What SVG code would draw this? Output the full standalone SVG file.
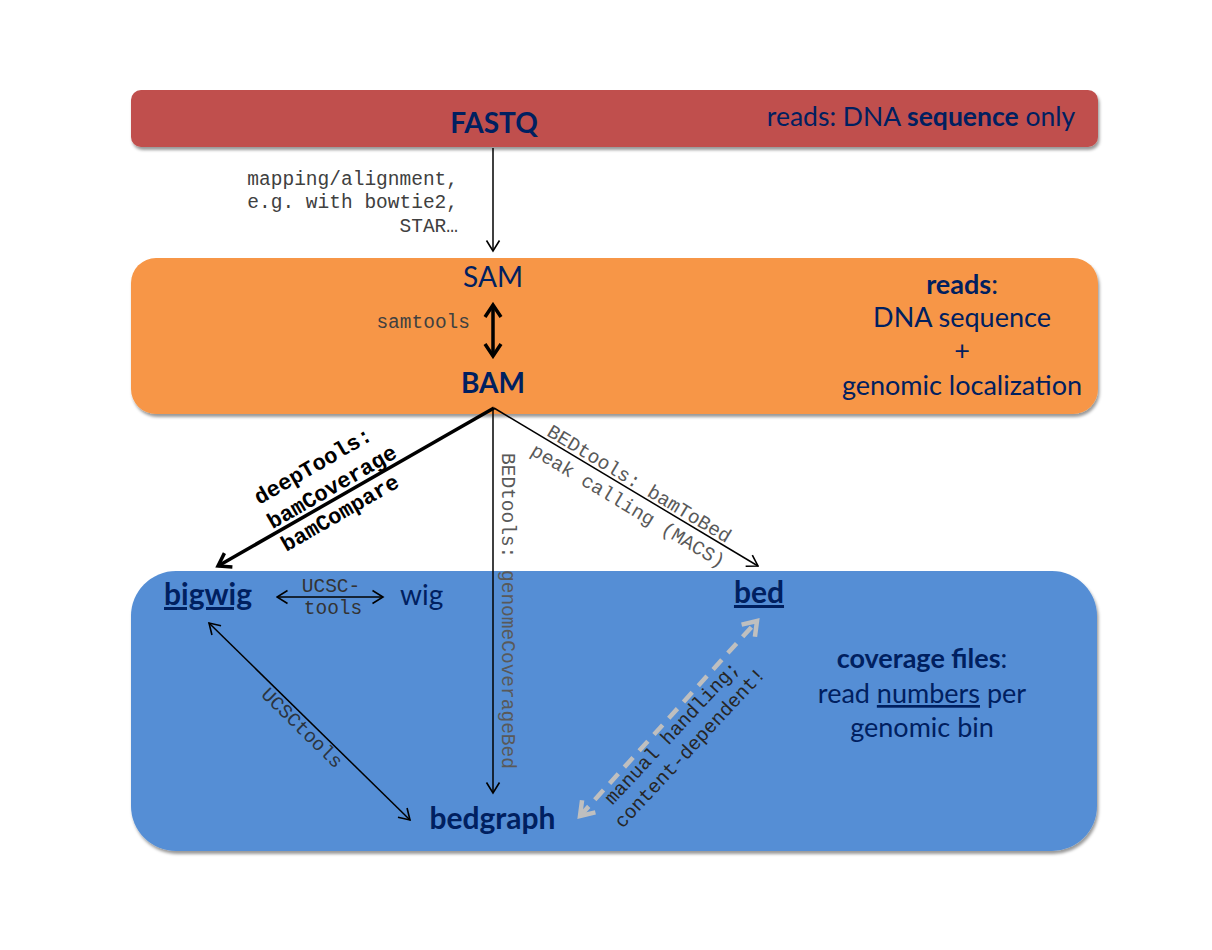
<svg xmlns="http://www.w3.org/2000/svg" width="1212" height="950" viewBox="0 0 1212 950">
  <style>
    .title { font-family: Lato, "Open Sans", sans-serif; fill: #002060; font-size: 28px; }
    .lc { font-size: 30px; }
    .b { font-weight: bold; }
    .desc { font-family: Lato, "Open Sans", sans-serif; fill: #002060; font-size: 27px; }
    .top { font-size: 26.5px; }
    .mono { font-family: "Liberation Mono", "DejaVu Sans Mono", monospace; font-size: 19.5px; }
    .monob { font-family: "Liberation Mono", "DejaVu Sans Mono", monospace; font-size: 22px; font-weight: bold; fill: #000; }
    .thin { stroke: #000; stroke-width: 1.5; fill: none; }
    .thick { stroke: #000; stroke-width: 3.5; fill: none; }
    .dash { stroke: #BFBFBF; stroke-width: 4.5; fill: none; stroke-dasharray: 13 9; }
  </style>
  <defs>
    <filter id="shadow" x="-5%" y="-10%" width="110%" height="125%">
      <feDropShadow dx="1.5" dy="3" stdDeviation="1.5" flood-color="#000" flood-opacity="0.4"/>
    </filter>
    <marker id="aThin" markerUnits="userSpaceOnUse" viewBox="0 0 14 16" markerWidth="14" markerHeight="16" refX="12.5" refY="8" orient="auto-start-reverse">
      <path d="M2,1.5 L12.5,8 L2,14.5" fill="none" stroke="#000" stroke-width="1.6"/>
    </marker>
    <marker id="aThick" markerUnits="userSpaceOnUse" viewBox="0 0 18 20" markerWidth="18" markerHeight="20" refX="15" refY="10" orient="auto-start-reverse">
      <path d="M3,2 L15,10 L3,18" fill="none" stroke="#000" stroke-width="3.5" stroke-linejoin="miter"/>
    </marker>
    <marker id="aGray" markerUnits="userSpaceOnUse" viewBox="0 0 20 22" markerWidth="20" markerHeight="22" refX="16" refY="11" orient="auto-start-reverse">
      <path d="M3,2 L16,11 L3,20" fill="none" stroke="#BFBFBF" stroke-width="4.5"/>
    </marker>
  </defs>

  <rect width="1212" height="950" fill="#ffffff"/>

  <!-- containers -->
  <g id="reads-fastq-box">
    <rect x="131" y="90" width="967" height="57" rx="10" fill="#C0504D" filter="url(#shadow)"/>
    <text class="desc top" x="921" y="126" text-anchor="middle">reads: DNA <tspan class="b">sequence</tspan> only</text>
  </g>
  <g id="reads-aligned-box">
    <rect x="131" y="258" width="967" height="156" rx="25" fill="#F79646" filter="url(#shadow)"/>
    <text class="desc" text-anchor="middle" x="962" y="294"><tspan class="b">reads</tspan>:</text>
    <text class="desc" text-anchor="middle" x="962" y="327">DNA sequence</text>
    <text class="desc" text-anchor="middle" x="962" y="360">+</text>
    <text class="desc" text-anchor="middle" x="962" y="395">genomic localization</text>
  </g>
  <g id="coverage-box">
    <rect x="131" y="571" width="966" height="280" rx="45" fill="#558ED5" filter="url(#shadow)"/>
    <text class="desc" text-anchor="middle" x="922" y="668"><tspan class="b">coverage files</tspan>:</text>
    <text class="desc" text-anchor="middle" x="922" y="703">read <tspan text-decoration="underline">numbers</tspan> per</text>
    <text class="desc" text-anchor="middle" x="922" y="737">genomic bin</text>
  </g>

  <!-- nodes -->
  <g id="fastq"><text class="title b" x="494" y="133" text-anchor="middle">FASTQ</text></g>
  <g id="sam"><text class="title" x="493" y="287" text-anchor="middle">SAM</text></g>
  <g id="bam"><text class="title b" x="493" y="393" text-anchor="middle">BAM</text></g>
  <g id="bigwig"><text class="title lc b" x="164" y="605" text-decoration="underline">bigwig</text></g>
  <g id="wig"><text class="title" x="400" y="605">wig</text></g>
  <g id="bed"><text class="title lc b" x="759" y="603" text-anchor="middle" text-decoration="underline">bed</text></g>
  <g id="bedgraph"><text class="title lc b" x="492.5" y="829" text-anchor="middle">bedgraph</text></g>

  <!-- connectors -->
  <g id="connectors">
    <line class="thin" x1="493" y1="148" x2="493" y2="251" marker-end="url(#aThin)"/>
    <line class="thick" x1="493" y1="305" x2="493" y2="356" marker-start="url(#aThick)" marker-end="url(#aThick)"/>
    <line class="thick" x1="494" y1="408" x2="218" y2="566" marker-end="url(#aThick)"/>
    <line class="thin" x1="493" y1="408" x2="493" y2="793" marker-end="url(#aThin)"/>
    <line class="thin" x1="494" y1="408" x2="758" y2="566" marker-end="url(#aThin)"/>
    <line class="thin" x1="277" y1="597" x2="383" y2="597" marker-start="url(#aThin)" marker-end="url(#aThin)"/>
    <line class="thin" x1="209" y1="623" x2="410" y2="820" marker-start="url(#aThin)" marker-end="url(#aThin)"/>
    <line class="dash" x1="580" y1="816" x2="757" y2="621" marker-start="url(#aGray)" marker-end="url(#aGray)"/>
  </g>

  <!-- connector labels -->
  <g id="connector-labels">
    <g class="mono" fill="#404040" text-anchor="end">
      <text x="458" y="185">mapping/alignment,</text>
      <text x="458" y="208">e.g. with bowtie2,</text>
      <text x="458" y="232">STAR…</text>
    </g>
    <text class="mono" fill="#404040" x="470" y="328" text-anchor="end">samtools</text>

    <text class="monob" text-anchor="middle" transform="translate(313,466) rotate(-30)" y="7">deepTools:</text>
    <text class="monob" text-anchor="middle" transform="translate(332,487) rotate(-30)" y="7">bamCoverage</text>
    <text class="monob" text-anchor="middle" transform="translate(340,513) rotate(-30)" y="7">bamCompare</text>

    <text class="mono" fill="#595959" transform="translate(502,453) rotate(90)">BEDtools: genomeCoverageBed</text>

    <text class="mono" fill="#595959" text-anchor="middle" transform="translate(639,484) rotate(31)" y="6">BEDtools: bamToBed</text>
    <text class="mono" fill="#595959" text-anchor="middle" transform="translate(628,506) rotate(31)" y="6">peak calling (MACS)</text>

    <text class="mono" fill="#333333" x="331" y="592" text-anchor="middle">UCSC-</text>
    <text class="mono" fill="#333333" x="333" y="614" text-anchor="middle">tools</text>

    <text class="mono" fill="#2b3440" text-anchor="middle" transform="translate(302,728) rotate(44.4)" y="6">UCSCtools</text>

    <text class="mono" fill="#262626" text-anchor="middle" transform="translate(672,733) rotate(-47)" y="6">manual handling;</text>
    <text class="mono" fill="#262626" text-anchor="middle" transform="translate(690,748) rotate(-47)" y="6">content-dependent!</text>
  </g>
</svg>
